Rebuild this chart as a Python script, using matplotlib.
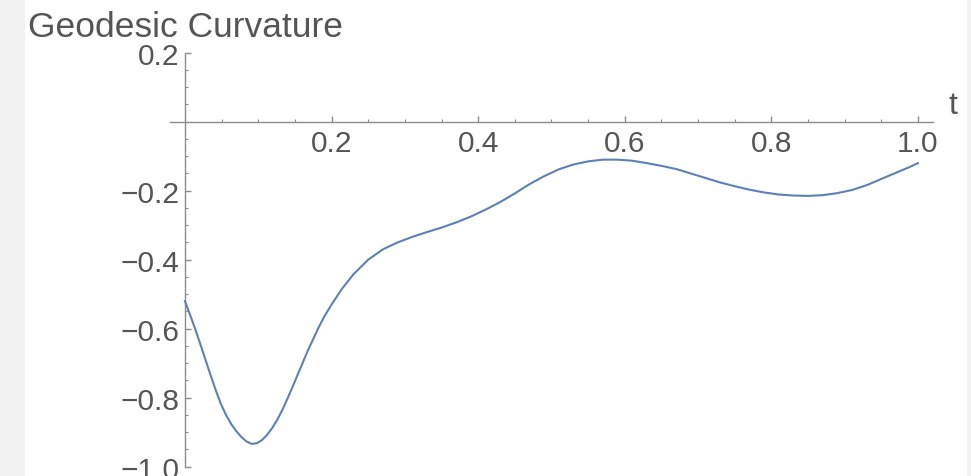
import matplotlib.pyplot as plt
from matplotlib.patches import Rectangle
from matplotlib.ticker import MultipleLocator, FixedLocator

# values
t = [0.000, 0.007, 0.014, 0.021, 0.028, 0.035, 0.042, 0.049, 0.056, 0.063,
     0.070, 0.077, 0.084, 0.091, 0.098, 0.105, 0.112, 0.119, 0.126, 0.133,
     0.140, 0.147, 0.154, 0.161, 0.168, 0.175, 0.182, 0.190, 0.200, 0.214,
     0.230, 0.250, 0.270, 0.290, 0.310, 0.330, 0.350, 0.370, 0.390, 0.410,
     0.430, 0.450, 0.470, 0.490, 0.510, 0.530, 0.550, 0.570, 0.590, 0.610,
     0.630, 0.650, 0.670, 0.690, 0.710, 0.730, 0.750, 0.770, 0.790, 0.810,
     0.830, 0.850, 0.870, 0.890, 0.910, 0.930, 0.950, 0.970, 0.990, 1.000]
kappa = [-0.520, -0.560, -0.601, -0.645, -0.690, -0.735, -0.778, -0.818, -0.850, -0.876,
         -0.897, -0.914, -0.927, -0.934, -0.932, -0.923, -0.908, -0.888, -0.864, -0.835,
         -0.802, -0.768, -0.732, -0.697, -0.662, -0.630, -0.598, -0.565, -0.530, -0.485,
         -0.442, -0.400, -0.370, -0.350, -0.334, -0.320, -0.307, -0.292, -0.275, -0.255,
         -0.233, -0.208, -0.181, -0.158, -0.138, -0.124, -0.115, -0.110, -0.110, -0.113,
         -0.120, -0.128, -0.137, -0.150, -0.163, -0.176, -0.187, -0.197, -0.205, -0.211,
         -0.214, -0.215, -0.213, -0.207, -0.198, -0.184, -0.166, -0.148, -0.130, -0.120]

x_ticks = [0.2, 0.4, 0.6, 0.8, 1.0]
y_ticks = [0.2, -0.2, -0.4, -0.6, -0.8, -1.0]

plt.rcParams['font.family'] = ['Liberation Sans', 'DejaVu Sans']
plt.rcParams['axes.unicode_minus'] = True

fig = plt.figure(figsize=(9.71, 4.77), dpi=100, facecolor='#f2f2f2')
fig.patches.append(Rectangle((25 / 971, 0), (967 - 25) / 971, 1,
                             transform=fig.transFigure, facecolor='white',
                             edgecolor='none', zorder=-10))

# data (0,0) sits at pixel (185, 122.7); 733 px per unit in t, 345 px per unit in y
ax = fig.add_axes([170.3 / 971, 1 - 469.4 / 477, 762.3 / 971, (469.4 - 52) / 477])
ax.set_zorder(5)
ax.set_facecolor('none')
ax.plot(t, kappa, color='#5e81b5', lw=1.5, clip_on=False, zorder=3)

ax.set_xlim(-0.02, 1.02)
ax.set_ylim(-1.005, 0.205)

axis_col = '#8c8c8c'
text_col = '#555555'
for s in ['top', 'right']:
    ax.spines[s].set_visible(False)
ax.spines['left'].set_position(('data', 0))
ax.spines['bottom'].set_position(('data', 0))
ax.spines['left'].set_bounds(-1.0, 0.2)
for s in ['left', 'bottom']:
    ax.spines[s].set_color(axis_col)
    ax.spines[s].set_linewidth(1.0)

ax.xaxis.set_major_locator(FixedLocator(x_ticks))
ax.yaxis.set_major_locator(FixedLocator(y_ticks))
ax.xaxis.set_minor_locator(MultipleLocator(0.05))
ax.yaxis.set_minor_locator(MultipleLocator(0.05))
ax.set_xticklabels([f"{v:.1f}" for v in x_ticks])
ax.set_yticklabels([f"{v:.1f}".replace('-', '\u2212') for v in y_ticks])

ax.tick_params(axis='both', which='both', direction='in', color=axis_col,
               labelcolor=text_col, labelsize=21.5)
ax.tick_params(axis='both', which='major', length=4.5, width=1.0)
ax.tick_params(axis='both', which='minor', length=2.5, width=0.8)
ax.tick_params(axis='x', which='major', pad=5)
ax.tick_params(axis='y', which='major', pad=4)

fig.text(28 / 971, 1 - 37 / 477, "Geodesic Curvature", fontsize=25.5,
         color=text_col, ha='left', va='baseline')
fig.text(948 / 971, 1 - 106 / 477, "t", fontsize=23, color=text_col,
         ha='left', va='center')

fig.savefig("out.png", dpi=100, facecolor=fig.get_facecolor())
